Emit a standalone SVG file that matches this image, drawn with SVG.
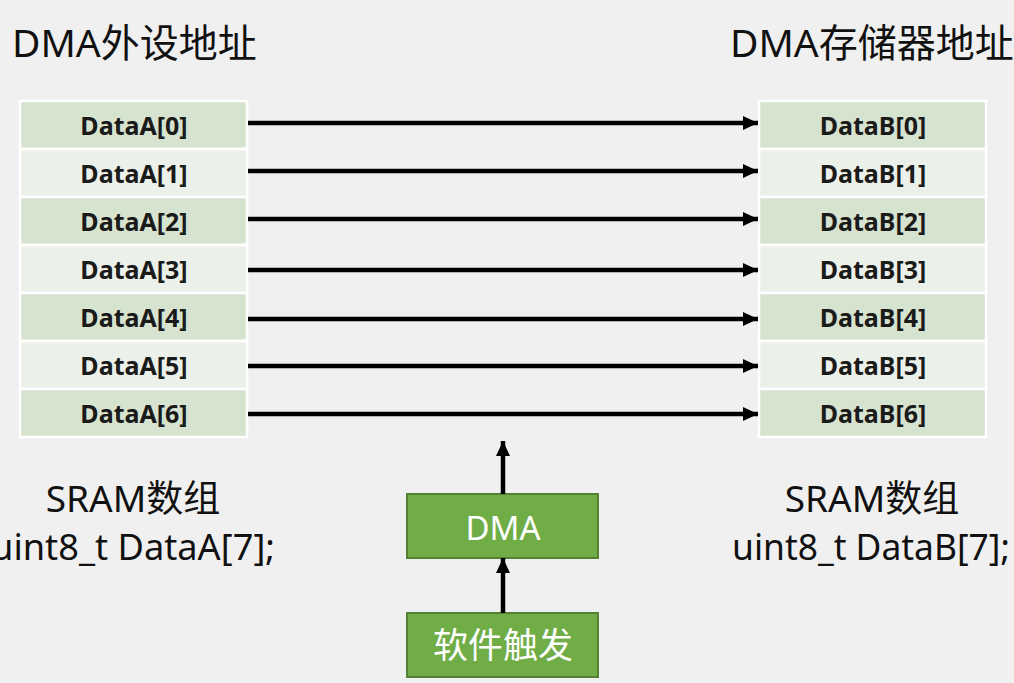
<svg xmlns="http://www.w3.org/2000/svg" width="1014" height="683" viewBox="0 0 1014 683">
<style>
.t{font-family:"Noto Sans","Noto Sans CJK SC",sans-serif;fill:#111}
.big{font-size:39px}
.lab{font-size:37px;text-anchor:middle}
.cell{font-size:25px;font-weight:bold;fill:#1a1a1a;text-anchor:middle}
.d{fill:#d6e3cf;stroke:#fff;stroke-width:2.5}
.l{fill:#ebf0e9;stroke:#fff;stroke-width:2.5}
.arr{stroke:#000;stroke-width:4.5;fill:none}
.box{fill:#70ad47;stroke:#548235;stroke-width:2}
.bt{font-family:"Noto Sans","Noto Sans CJK SC",sans-serif;fill:#fff;text-anchor:middle}
</style>
<defs>
<marker id="ah" markerUnits="userSpaceOnUse" markerWidth="16" markerHeight="16" refX="15" refY="7" orient="auto">
<path d="M0,0 L15,7 L0,14 Z" fill="#000"/>
</marker>
</defs>
<rect width="1014" height="683" fill="#f0f0f0"/>
<text class="t big" x="12" y="57">DMA外设地址</text>
<text class="t big" x="730" y="57">DMA存储器地址</text>
<g id="tableA">
<rect class="d" x="20" y="101" width="227" height="48"/>
<rect class="l" x="20" y="149" width="227" height="48"/>
<rect class="d" x="20" y="197" width="227" height="48"/>
<rect class="l" x="20" y="245" width="227" height="48"/>
<rect class="d" x="20" y="293" width="227" height="48"/>
<rect class="l" x="20" y="341" width="227" height="48"/>
<rect class="d" x="20" y="389" width="227" height="48"/>
<text class="t cell" x="134" y="135">DataA[0]</text>
<text class="t cell" x="134" y="183">DataA[1]</text>
<text class="t cell" x="134" y="231">DataA[2]</text>
<text class="t cell" x="134" y="279">DataA[3]</text>
<text class="t cell" x="134" y="327">DataA[4]</text>
<text class="t cell" x="134" y="375">DataA[5]</text>
<text class="t cell" x="134" y="423">DataA[6]</text>
</g>
<g id="tableB">
<rect class="d" x="759" y="101" width="227" height="48"/>
<rect class="l" x="759" y="149" width="227" height="48"/>
<rect class="d" x="759" y="197" width="227" height="48"/>
<rect class="l" x="759" y="245" width="227" height="48"/>
<rect class="d" x="759" y="293" width="227" height="48"/>
<rect class="l" x="759" y="341" width="227" height="48"/>
<rect class="d" x="759" y="389" width="227" height="48"/>
<text class="t cell" x="873" y="135">DataB[0]</text>
<text class="t cell" x="873" y="183">DataB[1]</text>
<text class="t cell" x="873" y="231">DataB[2]</text>
<text class="t cell" x="873" y="279">DataB[3]</text>
<text class="t cell" x="873" y="327">DataB[4]</text>
<text class="t cell" x="873" y="375">DataB[5]</text>
<text class="t cell" x="873" y="423">DataB[6]</text>
</g>
<g id="labelA">
<text class="t lab" x="133" y="512">SRAM数组</text>
<text class="t lab" x="133" y="560" textLength="284" lengthAdjust="spacingAndGlyphs">uint8_t DataA[7];</text>
</g>
<g id="labelB">
<text class="t lab" x="872" y="512">SRAM数组</text>
<text class="t lab" x="871" y="560" textLength="278" lengthAdjust="spacingAndGlyphs">uint8_t DataB[7];</text>
</g>
<g id="dma">
<rect class="box" x="407" y="494" width="191" height="64"/>
<text class="bt" x="503" y="540" font-size="33">DMA</text>
</g>
<g id="trigger">
<rect class="box" x="407" y="613" width="191" height="64"/>
<text class="bt" x="503" y="658" font-size="35">软件触发</text>
</g>
<g id="connectors">
<line class="arr" x1="248" y1="123" x2="758" y2="123" marker-end="url(#ah)"/>
<line class="arr" x1="248" y1="171" x2="758" y2="171" marker-end="url(#ah)"/>
<line class="arr" x1="248" y1="219" x2="758" y2="219" marker-end="url(#ah)"/>
<line class="arr" x1="248" y1="270" x2="758" y2="270" marker-end="url(#ah)"/>
<line class="arr" x1="248" y1="319" x2="758" y2="319" marker-end="url(#ah)"/>
<line class="arr" x1="248" y1="366" x2="758" y2="366" marker-end="url(#ah)"/>
<line class="arr" x1="248" y1="414" x2="758" y2="414" marker-end="url(#ah)"/>
<line class="arr" x1="503" y1="494" x2="503" y2="441" marker-end="url(#ah)"/>
<line class="arr" x1="503" y1="613" x2="503" y2="558" marker-end="url(#ah)"/>
</g>
</svg>
